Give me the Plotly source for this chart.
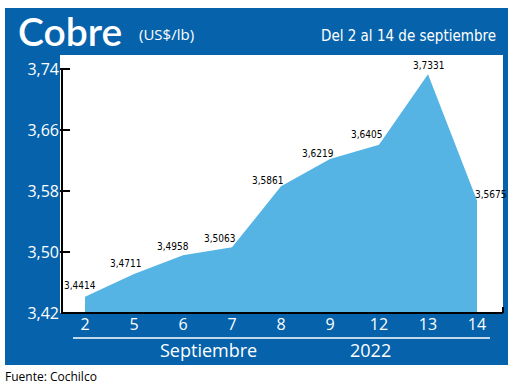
import plotly.graph_objects as go

days = ["2", "5", "6", "7", "8", "9", "12", "13", "14"]
prices = [3.4414, 3.4711, 3.4958, 3.5063, 3.5861, 3.6219, 3.6405, 3.7331, 3.5675]
price_labels = ["3,4414", "3,4711", "3,4958", "3,5063", "3,5861", "3,6219", "3,6405", "3,7331", "3,5675"]
y_ticks = [3.42, 3.50, 3.58, 3.66, 3.74]
y_ticktext = ["3,42", "3,50", "3,58", "3,66", "3,74"]

# label offsets in pixels (dx, dy up)
label_offsets = [(-5, 11), (-9, 11), (-10, 9), (-13, 9), (-14, 6), (-12, 6), (-13, 10), (0, 9), (13, 6)]

W, H = 520, 386
L, R, T, B = 60, 503, 55, 313
DARK = "#0663AB"
LIGHT = "#55B4E4"
NARROW = "Liberation Sans Narrow, DejaVu Sans Condensed, Arial Narrow, sans-serif"
SANS = "Open Sans, Lato, sans-serif"

def px(x):
    return (x - L) / (R - L)

def py(y):
    return (B - y) / (B - T)

xs = list(range(len(days)))
x_unit = 49.0
x0 = (L - 85) / x_unit
x1 = (R - 85) / x_unit
y_unit = 762.5
y_lo = 3.42
y_hi = y_lo + (B - T) / y_unit

fig = go.Figure()
fig.add_trace(go.Scatter(
    x=xs, y=prices, mode="lines", fill="tozeroy",
    fillcolor=LIGHT, line=dict(width=0, color=LIGHT),
    hoverinfo="skip", showlegend=False,
))

shapes = [
    dict(type="rect", xref="paper", yref="paper", x0=px(5), x1=px(508), y0=py(365), y1=py(8),
         fillcolor=DARK, line=dict(width=0), layer="below"),
    dict(type="rect", xref="paper", yref="paper", x0=px(L), x1=px(R), y0=py(B), y1=py(T),
         fillcolor="white", line=dict(width=0), layer="below"),
    dict(type="line", xref="paper", yref="y", x0=px(62), x1=px(62), y0=3.42, y1=3.74,
         line=dict(color="black", width=2)),
    dict(type="line", xref="paper", yref="paper", x0=px(61), x1=px(503), y0=py(B), y1=py(B),
         line=dict(color="black", width=2)),
    dict(type="line", xref="paper", yref="paper", x0=px(503), x1=px(503), y0=py(B), y1=py(307),
         line=dict(color="black", width=2)),
    dict(type="line", xref="paper", yref="paper", x0=px(73), x1=px(490), y0=py(338), y1=py(338),
         line=dict(color="white", width=1.5)),
]

annotations = []
for x, v, t, (dx, dy) in zip(xs, prices, price_labels, label_offsets):
    annotations.append(dict(x=x, y=v, xref="x", yref="y", text=t, showarrow=False,
                            xanchor="center", yanchor="middle", xshift=dx, yshift=dy,
                            font=dict(family=NARROW, size=10, color="black")))

annotations += [
    dict(x=px(16), y=py(31), xref="paper", yref="paper", text="Cobre", showarrow=False,
         xanchor="left", yanchor="middle",
         font=dict(family="Lato, Open Sans, sans-serif", size=39, weight=600, color="white")),
    dict(x=px(137), y=py(34), xref="paper", yref="paper", text="(US$/lb)", showarrow=False,
         xanchor="left", yanchor="middle", font=dict(family=SANS, size=15, color="white")),
    dict(x=px(498), y=py(36), xref="paper", yref="paper", text="Del 2 al 14 de septiembre", showarrow=False,
         xanchor="right", yanchor="middle", font=dict(family=NARROW, size=15, color="white")),
    dict(x=px(208), y=py(350), xref="paper", yref="paper", text="Septiembre", showarrow=False,
         xanchor="center", yanchor="middle", font=dict(family=SANS, size=18, color="white")),
    dict(x=px(370), y=py(350), xref="paper", yref="paper", text="2022", showarrow=False,
         xanchor="center", yanchor="middle", font=dict(family=SANS, size=18, color="white")),
    dict(x=px(3), y=py(376), xref="paper", yref="paper", text="Fuente: Cochilco", showarrow=False,
         xanchor="left", yanchor="middle", font=dict(family=SANS, size=12, color="black")),
]

fig.update_layout(
    width=W, height=H,
    margin=dict(l=L, r=W - R, t=T, b=H - B, pad=0),
    paper_bgcolor="white", plot_bgcolor="rgba(0,0,0,0)",
    shapes=shapes, annotations=annotations, showlegend=False,
    xaxis=dict(range=[x0, x1], tickvals=xs, ticktext=days, showgrid=False, zeroline=False,
               showline=False, ticks="", tickfont=dict(family=SANS, size=16, color="white"),
               fixedrange=True),
    yaxis=dict(range=[y_lo, y_hi], tickvals=y_ticks, ticktext=y_ticktext, showgrid=False,
               zeroline=False, showline=False, ticks="inside", ticklen=10, tickwidth=2,
               tickcolor="black", tickfont=dict(family=SANS, size=16, color="white"),
               fixedrange=True),
)

fig.write_html("out.html", config={"displayModeBar": False},
               post_script="document.body.style.margin='0';document.body.style.padding='0';")
